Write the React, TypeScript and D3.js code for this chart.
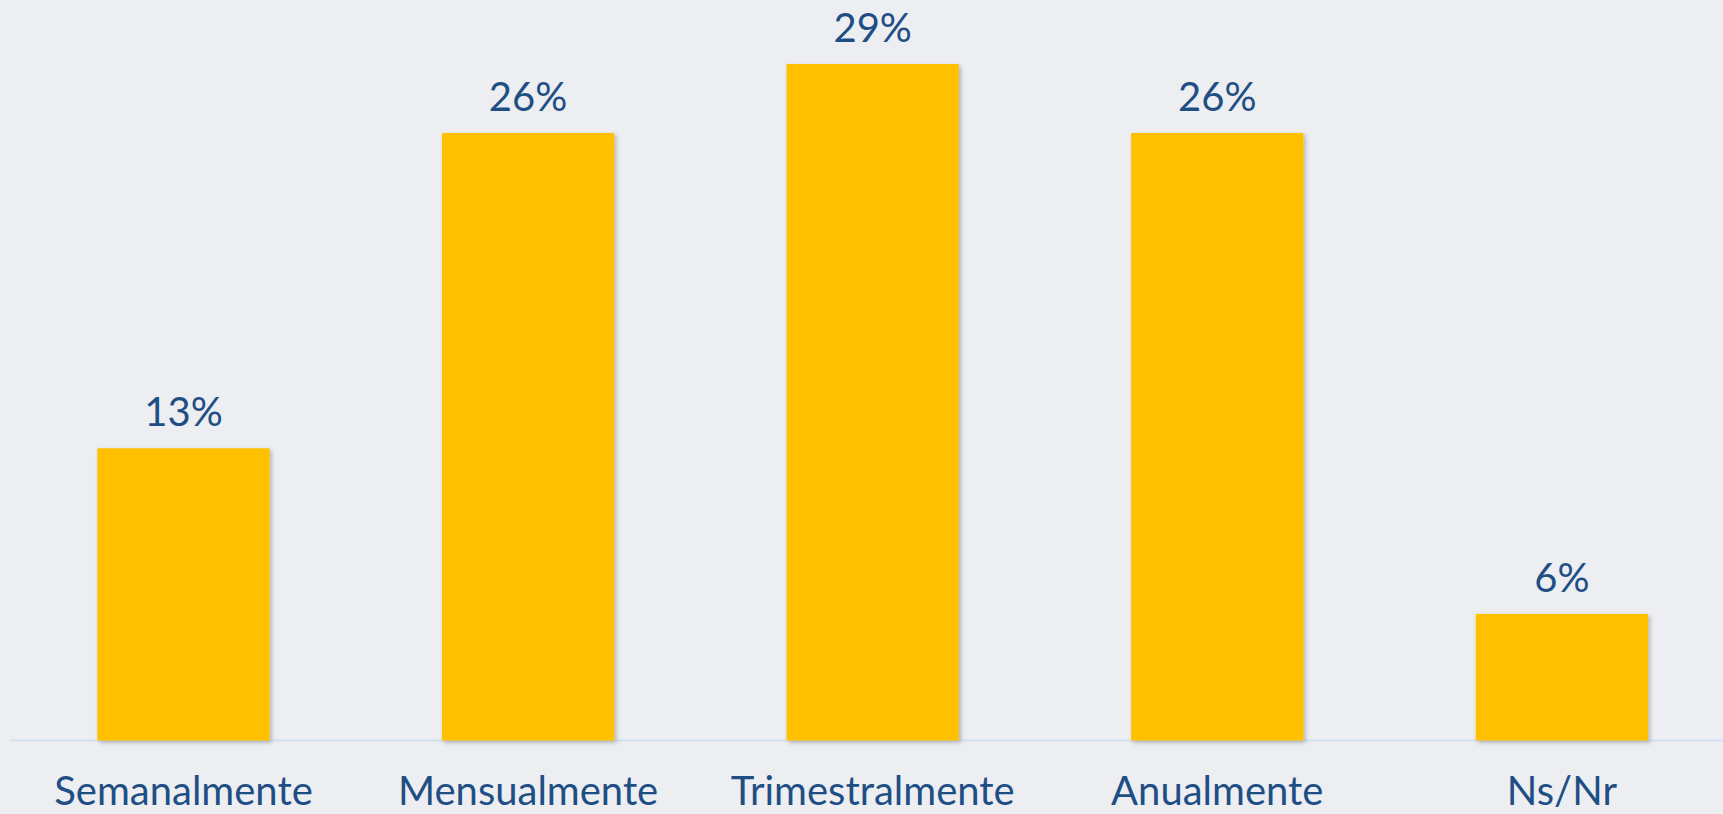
import React from "react";
import * as d3 from "d3";

const categories = ["Semanalmente", "Mensualmente", "Trimestralmente", "Anualmente", "Ns/Nr"];
const values = [12.7, 26.4, 29.4, 26.4, 5.5];
const valueLabels = ["13%", "26%", "29%", "26%", "6%"];

const W = 1723;
const H = 814;
const baseY = 740.5;

export default function App() {
  const x = d3
    .scaleBand<string>()
    .domain(categories)
    .range([11.2, 1734.2])
    .paddingInner(0.5)
    .paddingOuter(0.25);
  const y = d3.scaleLinear().domain([0, 32.18]).range([baseY, 0]);
  const font = "Lato, 'Open Sans', sans-serif";
  const textColor = "#1F4E85";
  return (
    <svg
      width={W}
      height={H}
      style={{ position: "absolute", left: 0, top: 0, display: "block" }}
    >
      <defs>
        <filter id="sh" x="-10%" y="-10%" width="120%" height="120%">
          <feDropShadow dx="2" dy="2" stdDeviation="2" floodColor="#000" floodOpacity="0.25" />
        </filter>
      </defs>
      <rect x={0} y={0} width={W} height={H} fill="#ECEEF1" />
      <line x1={11} x2={W} y1={baseY} y2={baseY} stroke="#D3E0EF" strokeWidth={2} />
      {categories.map((c, i) => {
        const bx = x(c)!;
        const bw = x.bandwidth();
        const top = y(values[i]);
        return (
          <g key={c}>
            <rect
              x={bx}
              y={top}
              width={bw}
              height={baseY - top}
              fill="#FFC000"
              filter="url(#sh)"
            />
            <text
              x={bx + bw / 2}
              y={top - 22}
              textAnchor="middle"
              fontFamily={font}
              fontSize={40}
              fill={textColor}
            >
              {valueLabels[i]}
            </text>
            <text
              x={bx + bw / 2}
              y={805}
              textAnchor="middle"
              fontFamily={font}
              fontSize={40}
              fill={textColor}
            >
              {c}
            </text>
          </g>
        );
      })}
    </svg>
  );
}
